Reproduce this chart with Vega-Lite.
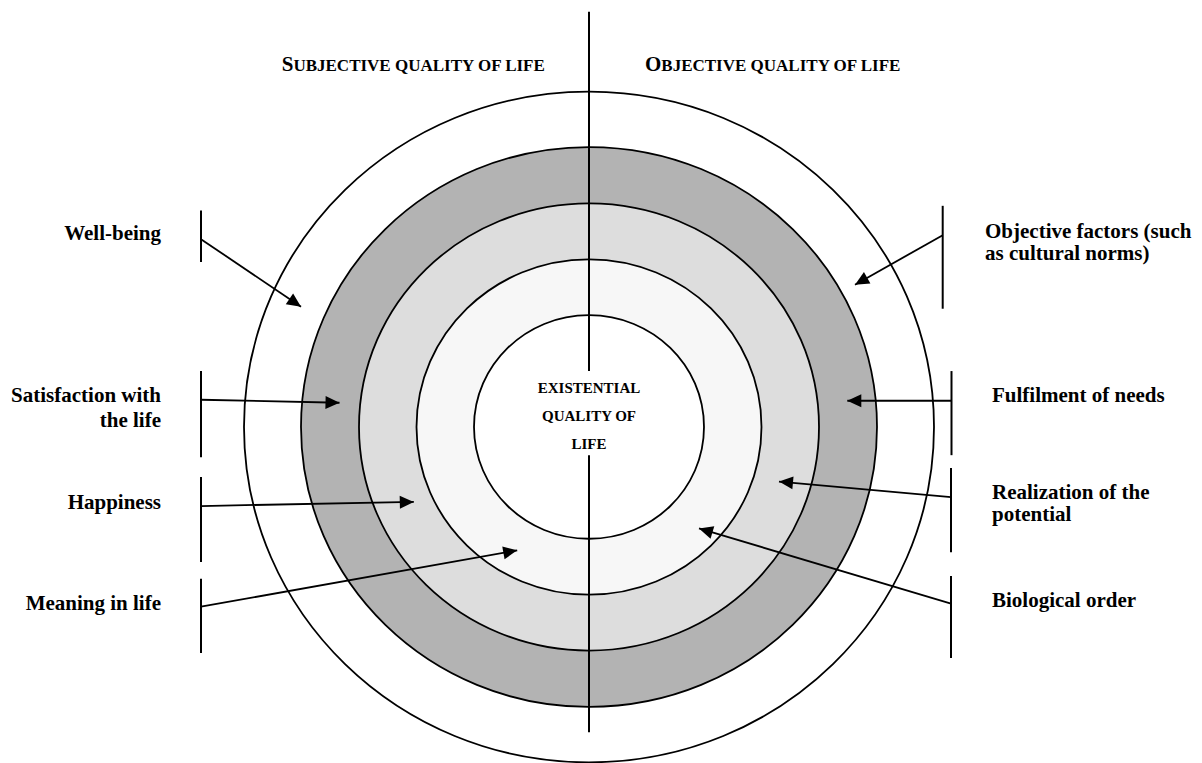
{
  "$schema": "https://vega.github.io/schema/vega-lite/v6.json",
  "width": 1202,
  "height": 763,
  "autosize": {"type": "fit", "contains": "padding"},
  "padding": 0,
  "background": "white",
  "config": {"view": {"stroke": null}},
  "datasets": {
    "rings": [
      {"ring": "outer", "rx": 345},
      {"ring": "band1", "rx": 288},
      {"ring": "band2", "rx": 230},
      {"ring": "band3", "rx": 172.5},
      {"ring": "inner", "rx": 115}
    ],
    "rules": [
      {"part": "axis", "x": 589, "y": 12, "y2": 375},
      {"part": "axis", "x": 589, "y": 460, "y2": 740},
      {"part": "bracket", "x": 201, "y": 212.7, "y2": 264.7},
      {"part": "bracket", "x": 201, "y": 375, "y2": 462},
      {"part": "bracket", "x": 201, "y": 482, "y2": 568},
      {"part": "bracket", "x": 201, "y": 585, "y2": 660},
      {"part": "bracket", "x": 942.7, "y": 208, "y2": 312},
      {"part": "bracket", "x": 951.5, "y": 375, "y2": 460},
      {"part": "bracket", "x": 951, "y": 473, "y2": 558},
      {"part": "bracket", "x": 951, "y": 582, "y2": 665}
    ],
    "arrows": [
      {"label": "Well-being", "x": 201, "y": 241.7, "x2": 301, "y2": 310},
      {"label": "Satisfaction with the life", "x": 201, "y": 404, "x2": 339.5, "y2": 407},
      {"label": "Happiness", "x": 201, "y": 511.4, "x2": 413.8, "y2": 507.2},
      {"label": "Meaning in life", "x": 201, "y": 613.1, "x2": 517.2, "y2": 556.2},
      {"label": "Objective factors", "x": 942.7, "y": 237.7, "x2": 855, "y2": 287.7},
      {"label": "Fulfilment of needs", "x": 951.5, "y": 405, "x2": 847.3, "y2": 405},
      {"label": "Realization of the potential", "x": 951, "y": 502.3, "x2": 779, "y2": 486.7},
      {"label": "Biological order", "x": 951, "y": 610, "x2": 699, "y2": 534}
    ],
    "labels": [
      {"side": "left", "text": "Well-being", "x": 161, "y": 243},
      {"side": "left", "text": "Satisfaction with", "x": 161, "y": 406.7},
      {"side": "left", "text": "the life", "x": 161, "y": 431.7},
      {"side": "left", "text": "Happiness", "x": 161, "y": 514},
      {"side": "left", "text": "Meaning in life", "x": 161, "y": 616.5},
      {"side": "right", "text": "Objective factors (such", "x": 985, "y": 241},
      {"side": "right", "text": "as cultural norms)", "x": 985, "y": 263},
      {"side": "right", "text": "Fulfilment of needs", "x": 992, "y": 406},
      {"side": "right", "text": "Realization of the", "x": 992, "y": 504.5},
      {"side": "right", "text": "potential", "x": 992, "y": 527},
      {"side": "right", "text": "Biological order", "x": 992, "y": 613}
    ],
    "centerText": [
      {"text": "EXISTENTIAL", "x": 589, "y": 397.3},
      {"text": "QUALITY OF", "x": 589, "y": 425},
      {"text": "LIFE", "x": 589, "y": 453.3}
    ],
    "titleCaps": [
      {"text": "S", "x": 281.7, "y": 71.7},
      {"text": "O", "x": 645, "y": 71.7}
    ],
    "titleSmall": [
      {"text": "UBJECTIVE QUALITY OF LIFE", "x": 293.4, "y": 71.7},
      {"text": "BJECTIVE QUALITY OF LIFE", "x": 661.3, "y": 71.7}
    ]
  },
  "encoding": {
    "x": {"field": "x", "type": "quantitative", "scale": {"domain": [0, 1202], "nice": false, "zero": false}, "axis": null},
    "y": {"field": "y", "type": "quantitative", "scale": {"domain": [0, 763], "nice": false, "zero": false, "reverse": true}, "axis": null}
  },
  "layer": [
    {
      "data": {"name": "rings"},
      "transform": [
        {"lookup": "ring", "from": {"data": {"values": [
          {"ring": "outer", "x": 589, "y": 431.5},
          {"ring": "band1", "x": 589, "y": 431.5},
          {"ring": "band2", "x": 589, "y": 431.5},
          {"ring": "band3", "x": 589, "y": 431.5},
          {"ring": "inner", "x": 589, "y": 431.5}
        ]}, "key": "ring", "fields": ["x", "y"]}}
      ],
      "mark": {
        "type": "point",
        "filled": true,
        "opacity": 1,
        "stroke": "black",
        "strokeWidth": 1.8,
        "shape": "M-1,0C-1,-0.5368,-0.5523,-0.972,0,-0.972C0.5523,-0.972,1,-0.5368,1,0C1,0.5368,0.5523,0.972,0,0.972C-0.5523,0.972,-1,0.5368,-1,0Z"
      },
      "encoding": {
        "size": {"field": "rx", "type": "quantitative", "scale": {"type": "pow", "exponent": 2, "domain": [0, 400], "range": [0, 640000]}, "legend": null},
        "color": {"field": "ring", "type": "nominal", "scale": {"domain": ["outer", "band1", "band2", "band3", "inner"], "range": ["#ffffff", "#b3b3b3", "#dddddd", "#f7f7f7", "#ffffff"]}, "legend": null},
        "order": {"field": "rx", "type": "quantitative", "sort": "descending"}
      }
    },
    {
      "data": {"name": "rules"},
      "mark": {"type": "rule", "color": "black", "strokeWidth": 2},
      "encoding": {
        "y2": {"field": "y2"}
      }
    },
    {
      "data": {"name": "arrows"},
      "mark": {"type": "rule", "color": "black", "strokeWidth": 1.8},
      "encoding": {
        "x2": {"field": "x2"},
        "y2": {"field": "y2"}
      }
    },
    {
      "data": {"name": "arrows"},
      "transform": [
        {"calculate": "atan2(datum.x2 - datum.x, datum.y - datum.y2) * 180 / PI", "as": "angle"}
      ],
      "mark": {"type": "point", "filled": true, "opacity": 1, "color": "black", "size": 196, "shape": "M0,0L0.93,2L-0.93,2Z"},
      "encoding": {
        "x": {"field": "x2", "type": "quantitative"},
        "y": {"field": "y2", "type": "quantitative"},
        "angle": {"field": "angle", "type": "quantitative", "scale": null}
      }
    },
    {
      "data": {"name": "labels"},
      "transform": [{"filter": "datum.side === 'left'"}],
      "mark": {"type": "text", "align": "right", "baseline": "alphabetic", "font": "Liberation Serif", "fontWeight": "bold", "fontSize": 21, "color": "black"},
      "encoding": {"text": {"field": "text"}}
    },
    {
      "data": {"name": "labels"},
      "transform": [{"filter": "datum.side === 'right'"}],
      "mark": {"type": "text", "align": "left", "baseline": "alphabetic", "font": "Liberation Serif", "fontWeight": "bold", "fontSize": 21, "color": "black"},
      "encoding": {"text": {"field": "text"}}
    },
    {
      "data": {"name": "centerText"},
      "mark": {"type": "text", "align": "center", "baseline": "alphabetic", "font": "Liberation Serif", "fontWeight": "bold", "fontSize": 15, "color": "black"},
      "encoding": {"text": {"field": "text"}}
    },
    {
      "data": {"name": "titleCaps"},
      "mark": {"type": "text", "align": "left", "baseline": "alphabetic", "font": "Liberation Serif", "fontWeight": "bold", "fontSize": 21, "color": "black"},
      "encoding": {"text": {"field": "text"}}
    },
    {
      "data": {"name": "titleSmall"},
      "mark": {"type": "text", "align": "left", "baseline": "alphabetic", "font": "Liberation Serif", "fontWeight": "bold", "fontSize": 17, "color": "black"},
      "encoding": {"text": {"field": "text"}}
    }
  ]
}
